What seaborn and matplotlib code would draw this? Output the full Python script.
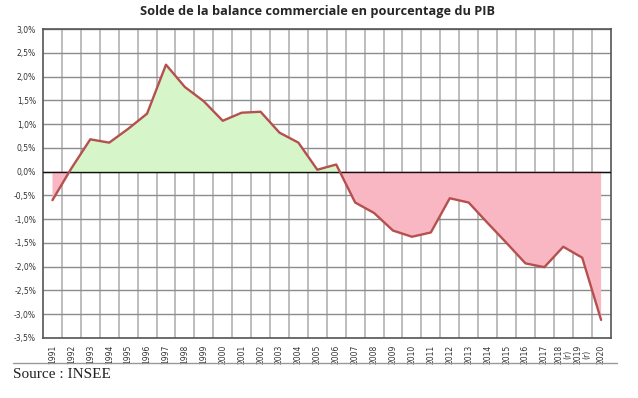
import matplotlib
matplotlib.use("Agg")
import matplotlib.pyplot as plt
import seaborn as sns
import numpy as np
import pandas as pd

years = [str(y) for y in range(1991, 2021)]
tick_labels = years[:27] + ["2018\n(r)", "2019\n(r)", "2020"]
solde = [-0.60, 0.07, 0.68, 0.61, 0.90, 1.22, 2.25, 1.78, 1.48, 1.07,
         1.24, 1.26, 0.82, 0.61, 0.04, 0.15, -0.65, -0.87, -1.24, -1.37,
         -1.28, -0.56, -0.65, -1.08, -1.50, -1.93, -2.01, -1.58, -1.81, -3.12]
y_ticks = [3.0, 2.5, 2.0, 1.5, 1.0, 0.5, 0.0, -0.5, -1.0, -1.5, -2.0, -2.5, -3.0, -3.5]

sns.set_style("white")
plt.rcParams['font.family'] = ['DejaVu Sans']

df = pd.DataFrame({"pos": np.arange(len(years)), "solde": solde})

fig = plt.figure(figsize=(6.38, 3.98), dpi=100)
ax = fig.add_axes([0.0674, 0.1508, 0.957 - 0.0674, 0.927 - 0.1508])

x = df["pos"].to_numpy(dtype=float)
y = df["solde"].to_numpy()
ax.fill_between(x, y, 0, where=y >= 0, interpolate=True, color="#d6f5c8", linewidth=0, zorder=1)
ax.fill_between(x, y, 0, where=y <= 0, interpolate=True, color="#f9b7c3", linewidth=0, zorder=1)
sns.lineplot(data=df, x="pos", y="solde", ax=ax, color="#b5504f", linewidth=1.7, zorder=4)

ax.set_xlim(-0.5, len(years) - 0.5)
ax.set_ylim(-3.5, 3.0)

# grid
for k in range(1, len(years)):
    ax.axvline(k - 0.5, color="#bdbdbd", linewidth=1.4, zorder=0.5)
for v in y_ticks:
    ax.axhline(v, color="#8c8c8c", linewidth=1.0, zorder=0.6)
ax.axhline(0, color="#111111", linewidth=1.0, zorder=3)

ax.set_yticks(y_ticks)
ax.set_yticklabels([f"{v:.1f}%".replace(".", ",") for v in y_ticks], fontsize=5.5, color="#333333")
ax.set_xticks(x)
ax.set_xticklabels(tick_labels, rotation=90, fontsize=5.5, color="#333333", linespacing=1.0)
ax.tick_params(axis="both", length=3, width=0.8, color="#777777", pad=2)
ax.tick_params(axis="x", length=0, pad=5)
ax.set_xlabel("")
ax.set_ylabel("")
for s in ax.spines.values():
    s.set_color("#555555")
    s.set_linewidth(1.2)

fig.text(0.497, 0.972, "Solde de la balance commerciale en pourcentage du PIB",
         ha="center", va="center", fontsize=9.2, fontweight="bold", family=["Open Sans", "DejaVu Sans"])
fig.add_artist(plt.Line2D([13 / 638, 617 / 638], [1 - 363 / 398, 1 - 363 / 398],
                          color="#999999", linewidth=1.0))
fig.text(13 / 638, 1 - 374 / 398, "Source : INSEE", ha="left", va="center",
         fontsize=11, family=["Liberation Serif", "DejaVu Serif"], color="#222222")

fig.savefig("out.png", dpi=100)
